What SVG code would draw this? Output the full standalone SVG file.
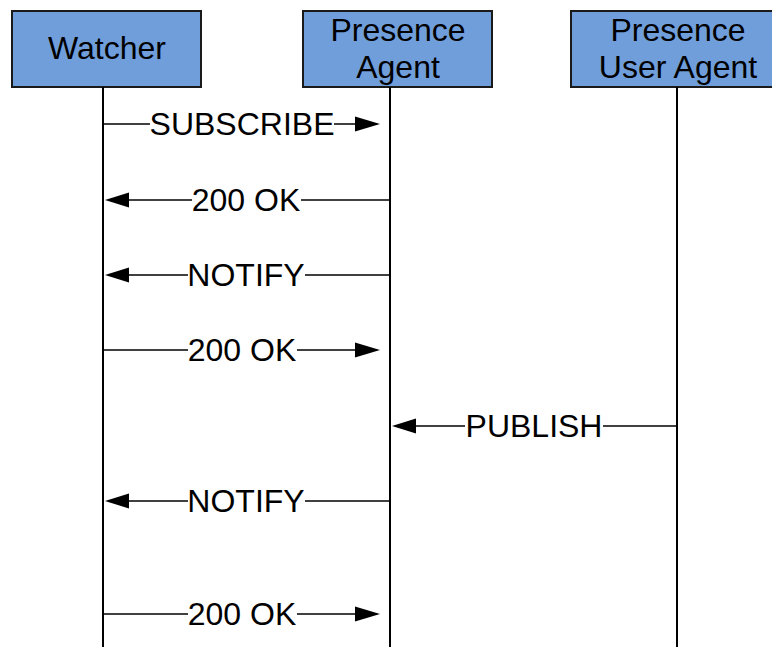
<svg xmlns="http://www.w3.org/2000/svg" width="772" height="647" viewBox="0 0 772 647">
  <style>
    .box { fill: #6f9edb; stroke: #1a1a1a; stroke-width: 2; }
    .life { stroke: #000; stroke-width: 2; fill: none; }
    .msg { stroke: #000; stroke-width: 1.6; fill: none; }
    .head { fill: #000; }
    .lbl { font-family: "Liberation Sans", Arial, sans-serif; font-size: 32px; fill: #000; text-anchor: middle; }
    .bg { fill: #fff; }
  </style>
  <rect width="772" height="647" fill="#fff"/>

  <!-- participants -->
  <g id="watcher">
    <rect class="box" x="12" y="11" width="189" height="76"/>
    <line class="life" x1="103" y1="87" x2="103" y2="647"/>
    <text class="lbl" x="107" y="59">Watcher</text>
  </g>
  <g id="presence-agent">
    <rect class="box" x="303" y="11" width="189" height="76"/>
    <line class="life" x1="390" y1="87" x2="390" y2="647"/>
    <text class="lbl" x="398" y="41">Presence</text>
    <text class="lbl" x="398" y="78">Agent</text>
  </g>
  <g id="presence-user-agent">
    <rect class="box" x="571" y="11" width="212" height="76"/>
    <line class="life" x1="677" y1="87" x2="677" y2="647"/>
    <text class="lbl" x="678" y="41">Presence</text>
    <text class="lbl" x="678" y="78">User Agent</text>
  </g>

  <!-- messages -->
  <g id="connectors">
    <g id="m1">
      <line class="msg" x1="103" y1="124" x2="358" y2="124"/>
      <polygon class="head" points="380,124 355,116.5 355,131.5"/>
      <rect class="bg" x="150" y="108" width="184" height="32"/>
      <text class="lbl" x="242" y="135">SUBSCRIBE</text>
    </g>
    <g id="m2">
      <line class="msg" x1="126" y1="200" x2="390" y2="200"/>
      <polygon class="head" points="105,200 129,192.5 129,207.5"/>
      <rect class="bg" x="192" y="184" width="109" height="32"/>
      <text class="lbl" x="246" y="211">200 OK</text>
    </g>
    <g id="m3">
      <line class="msg" x1="126" y1="275" x2="390" y2="275"/>
      <polygon class="head" points="105,275 129,267.5 129,282.5"/>
      <rect class="bg" x="188" y="259" width="117" height="32"/>
      <text class="lbl" x="246" y="286">NOTIFY</text>
    </g>
    <g id="m4">
      <line class="msg" x1="103" y1="350" x2="358" y2="350"/>
      <polygon class="head" points="380,350 355,342.5 355,357.5"/>
      <rect class="bg" x="188" y="334" width="109" height="32"/>
      <text class="lbl" x="242" y="361">200 OK</text>
    </g>
    <g id="m5">
      <line class="msg" x1="413" y1="426" x2="677" y2="426"/>
      <polygon class="head" points="392,426 416,418.5 416,433.5"/>
      <rect class="bg" x="465" y="410" width="138" height="32"/>
      <text class="lbl" x="534" y="437">PUBLISH</text>
    </g>
    <g id="m6">
      <line class="msg" x1="126" y1="501" x2="390" y2="501"/>
      <polygon class="head" points="105,501 129,493.5 129,508.5"/>
      <rect class="bg" x="188" y="485" width="117" height="32"/>
      <text class="lbl" x="246" y="512">NOTIFY</text>
    </g>
    <g id="m7">
      <line class="msg" x1="103" y1="614" x2="358" y2="614"/>
      <polygon class="head" points="380,614 355,606.5 355,621.5"/>
      <rect class="bg" x="188" y="598" width="109" height="32"/>
      <text class="lbl" x="242" y="625">200 OK</text>
    </g>
  </g>
</svg>
